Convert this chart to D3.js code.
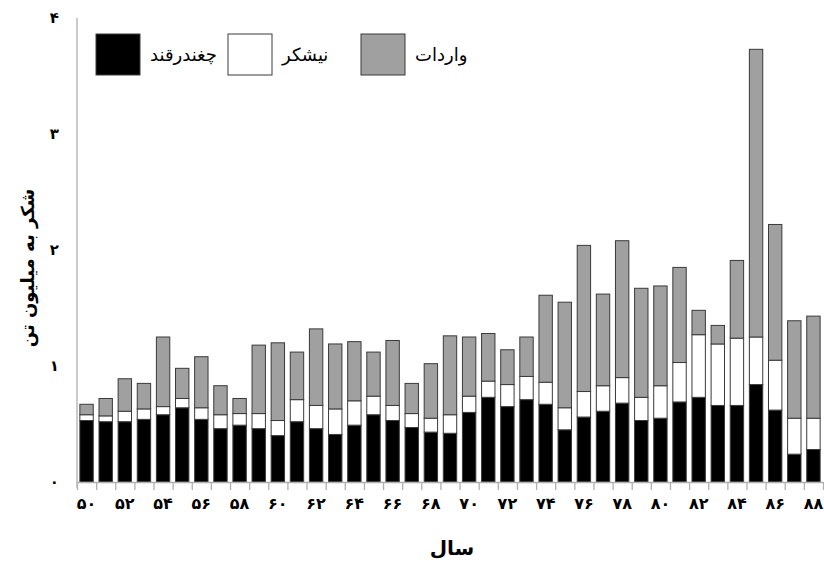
<!DOCTYPE html>
<html>
<head>
<meta charset="utf-8">
<script src="https://cdn.jsdelivr.net/npm/d3@7"></script>
<style>
  body { margin: 0; background: #fff; }
  svg { display: block; font-family: "DejaVu Sans", sans-serif; }
</style>
</head>
<body>
<svg id="chart" width="824" height="561"></svg>
<script>
// years 50..88 (Persian calendar), sugar in million tonnes
const years = d3.range(50, 89);
const beet = [0.53,0.52,0.52,0.54,0.58,0.64,0.54,0.46,0.49,0.46,0.40,0.52,0.46,0.41,0.49,0.58,0.53,0.47,0.43,0.42,
              0.60,0.73,0.65,0.71,0.67,0.45,0.56,0.61,0.68,0.53,0.55,0.69,0.73,0.66,0.66,0.84,0.62,0.24,0.28];
const cane = [0.05,0.05,0.09,0.09,0.07,0.08,0.10,0.12,0.10,0.13,0.13,0.19,0.20,0.22,0.21,0.16,0.13,0.12,0.12,0.16,
              0.14,0.14,0.19,0.20,0.19,0.19,0.22,0.22,0.22,0.20,0.28,0.34,0.54,0.53,0.58,0.41,0.43,0.31,0.27];
const imports = [0.09,0.15,0.28,0.22,0.60,0.26,0.44,0.25,0.13,0.59,0.67,0.41,0.66,0.56,0.51,0.38,0.56,0.26,0.47,0.68,
              0.51,0.41,0.30,0.34,0.75,0.91,1.26,0.79,1.18,0.94,0.86,0.82,0.21,0.16,0.67,2.48,1.17,0.84,0.88];
const seriesKeys = ["beet", "cane", "imports"];
const seriesNames = ["چغندرقند", "نیشکر", "واردات"];
const yTicks = [0, 1, 2, 3, 4];
const xLabelYears = d3.range(50, 89, 2);

const colors = { beet: "#000000", cane: "#ffffff", imports: "#a0a0a0" };
const faDigits = s => String(s).replace(/\d/g, c => "۰۱۲۳۴۵۶۷۸۹"[+c]);

const svg = d3.select("#chart");
const plotL = 77, plotR = 823, plotT = 18, plotB = 482;

const table = years.map((yr, i) => ({ year: yr, beet: beet[i], cane: cane[i], imports: imports[i] }));
const stacked = d3.stack().keys(seriesKeys)(table);

const x = d3.scaleBand().domain(years).range([plotL, plotR]).paddingInner(0.3).paddingOuter(0.15);
const y = d3.scaleLinear().domain([0, 4]).range([plotB, plotT]);
const xEdges = d3.scaleLinear().domain([0, years.length]).range([plotL, plotR]);

// bars
svg.append("g").selectAll("g")
  .data(stacked)
  .join("g")
    .attr("fill", d => colors[d.key])
  .selectAll("rect")
  .data(d => d)
  .join("rect")
    .attr("x", d => x(d.data.year))
    .attr("y", d => y(d[1]))
    .attr("width", x.bandwidth())
    .attr("height", d => y(d[0]) - y(d[1]))
    .attr("stroke", "#3a3a3a")
    .attr("stroke-width", 1);

// x axis: boundary ticks
const xTickAxis = svg.append("g")
  .attr("transform", `translate(0,${plotB})`)
  .call(d3.axisBottom(xEdges).tickValues(d3.range(years.length + 1)).tickSize(8).tickSizeOuter(0).tickFormat(""));
xTickAxis.selectAll("line, path").attr("stroke", "#b0b0b0").attr("stroke-width", 1.3);

// x axis labels
const xLab = svg.append("g")
  .attr("transform", `translate(0,${plotB + 8})`)
  .call(d3.axisBottom(x).tickValues(xLabelYears).tickSize(0).tickPadding(8).tickFormat(faDigits));
xLab.select(".domain").remove();
xLab.selectAll("text").attr("font-size", 16).attr("font-weight", "bold").attr("fill", "#000")
  .attr("font-family", "DejaVu Sans, sans-serif");

// y axis
const yAx = svg.append("g")
  .attr("transform", `translate(${plotL},0)`)
  .call(d3.axisLeft(y).tickValues(yTicks).tickSize(0).tickPadding(18).tickFormat(faDigits));
yAx.select(".domain").attr("stroke", "#b8b8b8").attr("stroke-width", 1.5)
  .attr("d", `M0,${plotT}V${plotB + 6}`);
yAx.selectAll("text").attr("font-size", 15).attr("font-weight", "bold").attr("fill", "#000")
  .attr("font-family", "DejaVu Sans, sans-serif");

// axis titles
svg.append("text")
  .attr("x", 452).attr("y", 555)
  .attr("text-anchor", "middle")
  .attr("font-size", 20).attr("font-weight", "bold")
  .text("سال");

svg.append("text")
  .attr("transform", "translate(34,268) rotate(-90)")
  .attr("text-anchor", "middle")
  .attr("font-size", 18).attr("font-weight", "bold")
  .text("شکر به میلیون تن");

// legend
const legendX = [96, 228, 361];
const legend = svg.append("g").selectAll("g")
  .data(seriesKeys)
  .join("g")
    .attr("transform", (d, i) => `translate(${legendX[i]},34)`);
legend.append("rect")
  .attr("width", 44).attr("height", 41)
  .attr("fill", d => colors[d])
  .attr("stroke", "#3a3a3a").attr("stroke-width", 1);
legend.append("text")
  .attr("x", 54).attr("y", 21)
  .attr("dy", "0.35em")
  .attr("font-size", 18)
  .text((d, i) => seriesNames[i]);
</script>
</body>
</html>
